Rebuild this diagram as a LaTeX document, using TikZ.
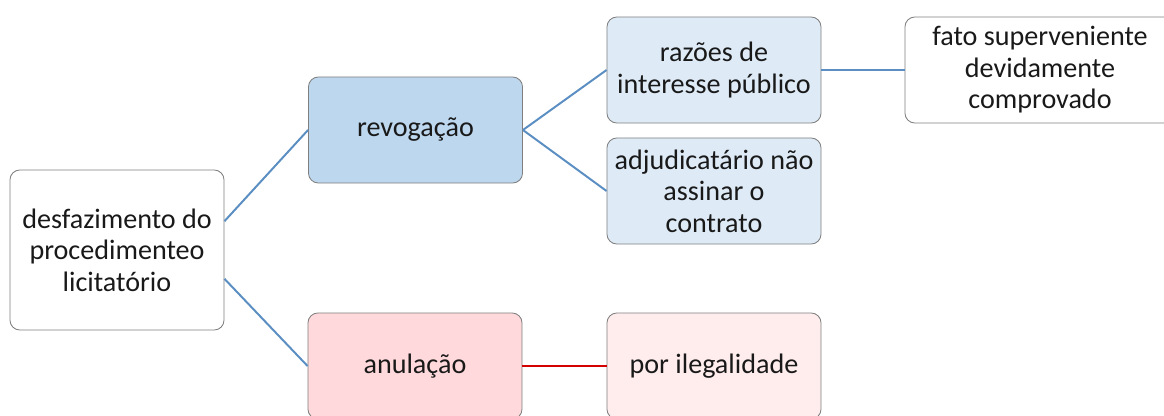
\documentclass[tikz,border=0pt]{standalone}
\usepackage{fontspec}
\setmainfont{Carlito}
\usepackage{xcolor}
\usetikzlibrary{positioning, calc}

\definecolor{bordo}{HTML}{7F7F7F}
\definecolor{blu1}{HTML}{BDD7EE}
\definecolor{blu2}{HTML}{DEEBF7}
\definecolor{rosa1}{HTML}{FFD9DB}
\definecolor{rosa2}{HTML}{FFEDEE}
\definecolor{linea}{HTML}{5B8EC2}
\definecolor{rosso}{HTML}{D40000}

\tikzset{
    box/.style={draw=bordo, line width=0.6pt, rounded corners=7pt, align=center,
        text=black!90, inner sep=2pt, font=\fontsize{20}{22.4}\selectfont},
    small/.style={box, minimum width=5.35cm, minimum height=2.65cm},
    link/.style={draw=linea, line width=1.4pt},
}

\begin{document}
\begin{tikzpicture}[x=0.025cm, y=-0.025cm]
    \useasboundingbox (0,0) rectangle (1164,415);

    % Radice
    \node[box, fill=white, minimum width=5.35cm, minimum height=4cm] (radice) at (117,250)
        {desfazimento do\\procedimenteo\\licitatório};

    % Primo livello
    \node[small, fill=blu1] (revoga) at (415.5,130) {revogação};
    \node[small, fill=rosa1] (anula) at (415,366) {anulação};

    % Secondo livello
    \node[small, fill=blu2] (razoes) at (714,70) {razões de\\interesse público};
    \node[small, fill=blu2] (adjud) at (714,191) {adjudicatário não\\assinar o\\contrato};
    \node[small, fill=rosa2] (ilegal) at (714,366) {por ilegalidade};

    % Terzo livello
    \node[box, fill=white, minimum width=6.75cm, minimum height=2.65cm] (fato) at (1040,70)
        {fato superveniente\\devidamente\\comprovado};

    % Collegamenti
    \draw[link] (radice.15) -- (revoga.west);
    \draw[link] (radice.-15) -- (anula.west);
    \draw[link] (revoga.east) -- (razoes.west);
    \draw[link] (revoga.east) -- (adjud.west);
    \draw[link] (razoes.east) -- (fato.west);
    \draw[link, draw=rosso] (anula.east) -- (ilegal.west);

\end{tikzpicture}
\end{document}
